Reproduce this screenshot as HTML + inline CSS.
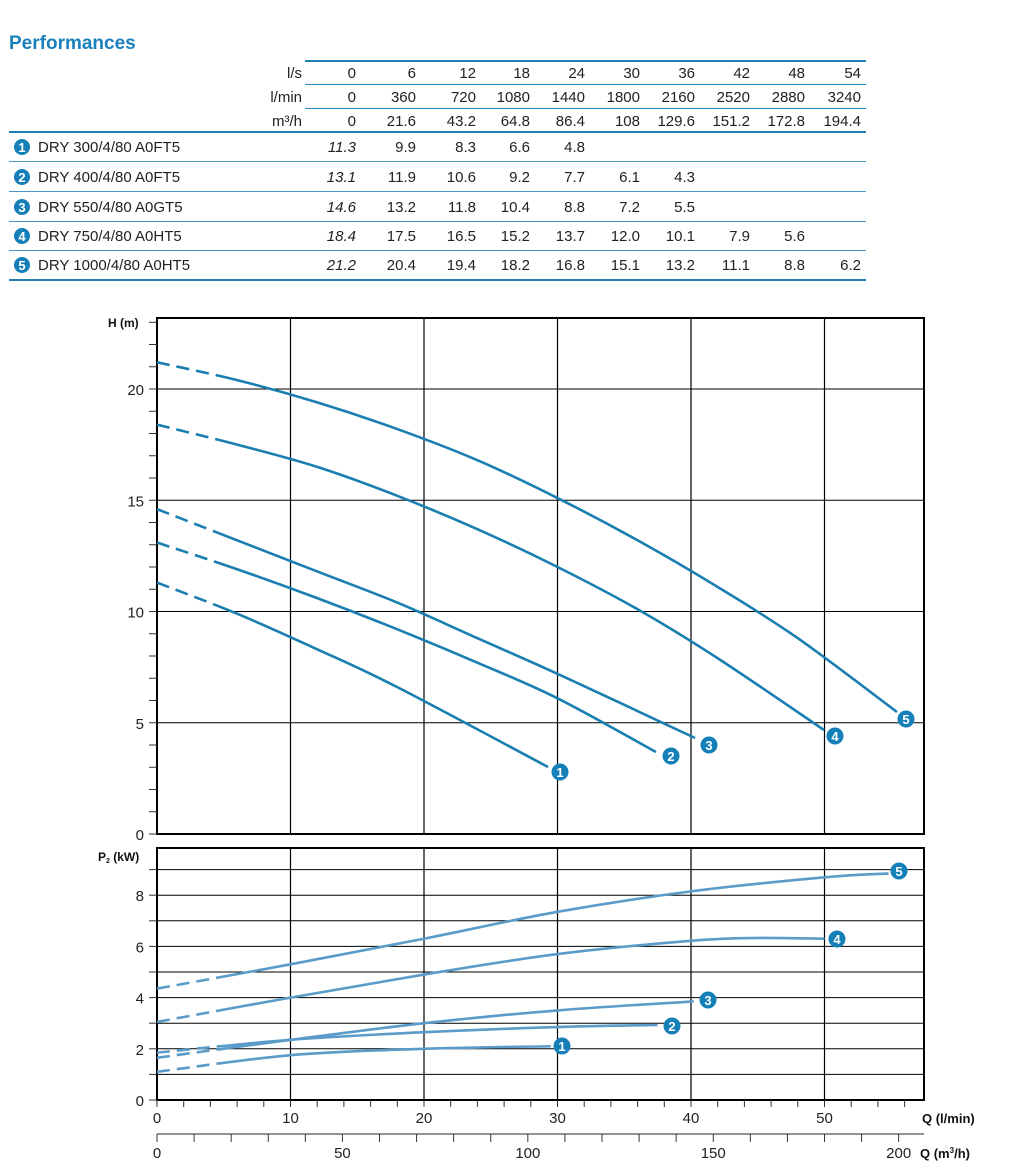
<!DOCTYPE html>
<html><head><meta charset="utf-8"><style>
html,body{margin:0;padding:0;background:#fff;}
svg{display:block;font-family:"Liberation Sans",sans-serif;}
</style></head><body>
<svg id="s" width="1024" height="1170" viewBox="0 0 1024 1170" xmlns="http://www.w3.org/2000/svg">
<defs>
<clipPath id="cd"><rect x="150" y="300" width="68" height="820"/></clipPath>
<clipPath id="cs"><rect x="218" y="300" width="720" height="820"/></clipPath>
</defs>
<text x="9" y="49" font-size="19" font-weight="bold" fill="#1a80bb">Performances</text>
<g id="tbl" font-size="15" fill="#222"></g>
<g id="chart"></g>
</svg>
<script>
var NS="http://www.w3.org/2000/svg";
function el(p,t,a,txt){var e=document.createElementNS(NS,t);for(var k in a)e.setAttribute(k,a[k]);if(txt!==undefined)e.textContent=txt;p.appendChild(e);return e;}
var tbl=document.getElementById('tbl'),ch=document.getElementById('chart');
el(tbl,'line',{x1:305,x2:866,y1:61,y2:61,stroke:'#1f7fae','stroke-width':2});
el(tbl,'line',{x1:305,x2:866,y1:84.5,y2:84.5,stroke:'#2a86b8','stroke-width':1});
el(tbl,'line',{x1:305,x2:866,y1:108.5,y2:108.5,stroke:'#2a86b8','stroke-width':1});
el(tbl,'line',{x1:9,x2:866,y1:132,y2:132,stroke:'#1f7fae','stroke-width':2});
[161,191,221,250].forEach(function(y){el(tbl,'line',{x1:9,x2:866,y1:y+.5,y2:y+.5,stroke:'#4a97c4','stroke-width':1});});
el(tbl,'line',{x1:9,x2:866,y1:280,y2:280,stroke:'#1f7fae','stroke-width':2});
var cx=[356,416,476,530,585,640,695,750,805,861];
var hdr=[['l/s',['0','6','12','18','24','30','36','42','48','54'],78],
['l/min',['0','360','720','1080','1440','1800','2160','2520','2880','3240'],102],
['m³/h',['0','21.6','43.2','64.8','86.4','108','129.6','151.2','172.8','194.4'],126]];
hdr.forEach(function(h){el(tbl,'text',{x:302,y:h[2],'text-anchor':'end'},h[0]);h[1].forEach(function(v,i){el(tbl,'text',{x:cx[i],y:h[2],'text-anchor':'end'},v);});});
var rows=[['DRY 300/4/80 A0FT5',[11.3,9.9,8.3,6.6,4.8]],['DRY 400/4/80 A0FT5',[13.1,11.9,10.6,9.2,7.7,6.1,4.3]],['DRY 550/4/80 A0GT5',[14.6,13.2,11.8,10.4,8.8,7.2,5.5]],['DRY 750/4/80 A0HT5',[18.4,17.5,16.5,15.2,13.7,12.0,10.1,7.9,5.6]],['DRY 1000/4/80 A0HT5',[21.2,20.4,19.4,18.2,16.8,15.1,13.2,11.1,8.8,6.2]]];
var ry=[152,182,212,241,270];
function badge(p,x,y,n,r){el(p,'circle',{cx:x,cy:y,r:r||8.5,fill:'#1580b8'});el(p,'text',{x:x,y:y+5,'text-anchor':'middle','font-size':13,'font-weight':'bold',fill:'#fff'},n);}
rows.forEach(function(r,i){badge(tbl,22,ry[i]-5,i+1,8);el(tbl,'text',{x:38,y:ry[i]},r[0]);
r[1].forEach(function(v,j){el(tbl,'text',{x:cx[j],y:ry[i],'text-anchor':'end','font-style':j==0?'italic':'normal'},v.toFixed(1));});});
var X=function(q){return 157+q*13.35;};
var YH=function(h){return 834-h*22.25;};
var YP=function(p){return 1100-p*25.6;};
for(var q=10;q<=50;q+=10){el(ch,'line',{x1:X(q),x2:X(q),y1:318,y2:834,stroke:'#000','stroke-width':1.2});el(ch,'line',{x1:X(q),x2:X(q),y1:848,y2:1100,stroke:'#000','stroke-width':1.2});}
for(var h=5;h<=20;h+=5)el(ch,'line',{x1:157,x2:924,y1:YH(h),y2:YH(h),stroke:'#000','stroke-width':1});
for(var p=1;p<=9;p++)el(ch,'line',{x1:157,x2:924,y1:YP(p),y2:YP(p),stroke:'#000','stroke-width':1});
el(ch,'rect',{x:157,y:318,width:767,height:516,fill:'none',stroke:'#000','stroke-width':2});
el(ch,'rect',{x:157,y:848,width:767,height:252,fill:'none',stroke:'#000','stroke-width':2});
for(var h=0;h<=23;h++){el(ch,'line',{x1:149,x2:157,y1:YH(h),y2:YH(h),stroke:'#333','stroke-width':1});}
[0,5,10,15,20].forEach(function(h){el(ch,'text',{x:144,y:YH(h)+6,'text-anchor':'end','font-size':15,fill:'#222'},h);});
for(var p=0;p<=9;p++){el(ch,'line',{x1:149,x2:157,y1:YP(p),y2:YP(p),stroke:'#333','stroke-width':1});}
[0,2,4,6,8].forEach(function(p){el(ch,'text',{x:144,y:YP(p)+6,'text-anchor':'end','font-size':15,fill:'#222'},p);});
el(ch,'text',{x:108,y:327,'font-size':12,'font-weight':'bold',fill:'#111'},'H (m)');
var t=el(ch,'text',{x:98,y:861,'font-size':12,'font-weight':'bold',fill:'#111'},'P');
el(t,'tspan',{'font-size':7,dy:2},'2');el(t,'tspan',{dy:-2},' (kW)');
for(var q=0;q<=56;q+=2)el(ch,'line',{x1:X(q),x2:X(q),y1:1100,y2:1107,stroke:'#333','stroke-width':1});
[0,10,20,30,40,50].forEach(function(q){el(ch,'text',{x:X(q),y:1123,'text-anchor':'middle','font-size':15,fill:'#222'},q);});
el(ch,'text',{x:922,y:1123,'font-size':13,'font-weight':'bold',fill:'#111'},'Q (l/min)');
el(ch,'line',{x1:157,x2:924,y1:1134,y2:1134,stroke:'#555','stroke-width':1.2});
var M=function(m){return 157+m*3.7083;};
for(var m=0;m<=200;m+=10)el(ch,'line',{x1:M(m),x2:M(m),y1:1134,y2:1142,stroke:'#333','stroke-width':1});
[0,50,100,150,200].forEach(function(m){el(ch,'text',{x:M(m),y:1158,'text-anchor':'middle','font-size':15,fill:'#222'},m);});
var t2=el(ch,'text',{x:920,y:1158,'font-size':13,'font-weight':'bold',fill:'#111'},'Q (m');
el(t2,'tspan',{'font-size':8,dy:-5},'3');el(t2,'tspan',{dy:5},'/h)');
function cr(pts){var d='M'+pts[0][0]+','+pts[0][1];for(var i=0;i<pts.length-1;i++){var p0=pts[i-1]||pts[i],p1=pts[i],p2=pts[i+1],p3=pts[i+2]||p2;
d+=' C'+(p1[0]+(p2[0]-p0[0])/6)+','+(p1[1]+(p2[1]-p0[1])/6)+' '+(p2[0]-(p3[0]-p1[0])/6)+','+(p2[1]-(p3[1]-p1[1])/6)+' '+p2[0]+','+p2[1];}return d;}
function curve(pts,col,w){var d=cr(pts);el(ch,'path',{d:d,fill:'none',stroke:col,'stroke-width':w,'clip-path':'url(#cd)','stroke-dasharray':'13,7'});el(ch,'path',{d:d,fill:'none',stroke:col,'stroke-width':w,'clip-path':'url(#cs)'});}
var HC='#1a7fb0',PC='#5b9bc9';
var ends=[[548,767],[656,752],[695,738],[824,730],[897,712]];
rows.forEach(function(r,i){var v=r[1].slice(0,r[1].length-1);var pts=v.map(function(v,j){return [X(j*6),YH(v)];});pts.push(ends[i]);curve(pts,HC,2.6);});
var pc=[[[0,1.1],[10,1.75],[20,2.0],[29.5,2.1]],
[[0,1.85],[10,2.35],[20,2.65],[30,2.85],[37.5,2.93]],
[[0,1.65],[10,2.35],[20,3.0],[30,3.5],[40.2,3.85]],
[[0,3.05],[10,4.0],[20,4.9],[30,5.7],[40,6.22],[45,6.33],[50,6.3]],
[[0,4.35],[10,5.3],[20,6.3],[30,7.35],[40,8.15],[50,8.7],[54.8,8.85]]];
pc.forEach(function(c){curve(c.map(function(a){return [X(a[0]),YP(a[1])];}),PC,2.6);});
[[560,772],[671,756],[709,745],[835,736],[906,719]].forEach(function(b,i){badge(ch,b[0],b[1],i+1);});
[[562,1046],[672,1026],[708,1000],[837,939],[899,871]].forEach(function(b,i){badge(ch,b[0],b[1],i+1);});
</script>
</body></html>
